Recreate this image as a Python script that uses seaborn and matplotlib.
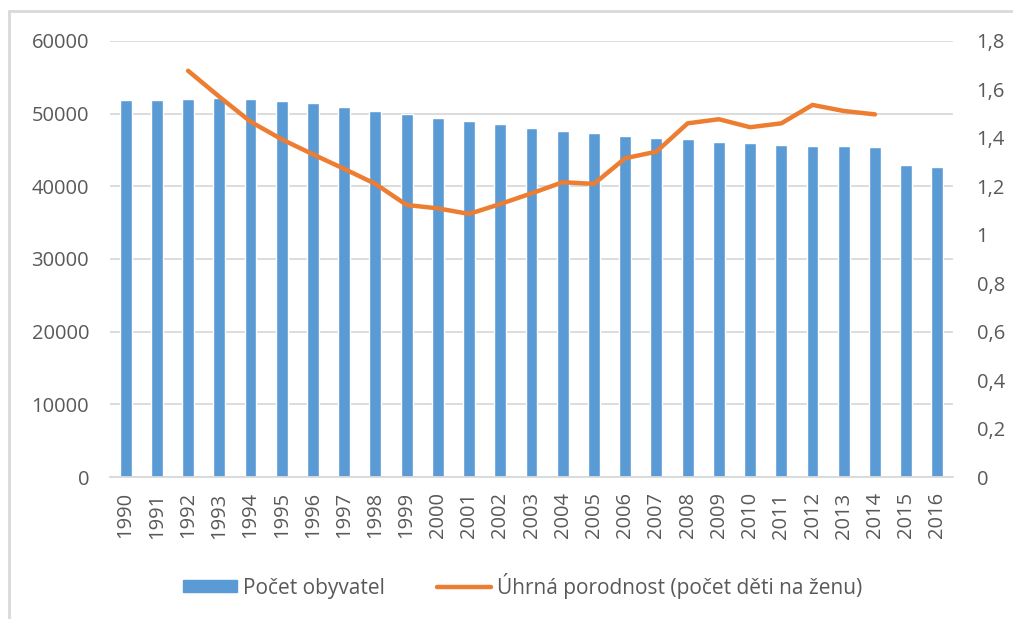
import numpy as np, pandas as pd, matplotlib
matplotlib.use("Agg")
import matplotlib.pyplot as plt
import seaborn as sns
from matplotlib.lines import Line2D
from matplotlib.patches import Patch
from matplotlib.ticker import FuncFormatter

years = list(range(1990, 2017))
population = [51900, 51900, 52050, 52200, 52050, 51700, 51420, 50870, 50320, 50000,
              49450, 48950, 48580, 48030, 47680, 47340, 46970, 46600, 46470, 46100,
              45920, 45730, 45550, 45550, 45370, 42890, 42700]
fert_years = list(range(1992, 2015))
fertility = [1.677, 1.570, 1.467, 1.394, 1.332, 1.272, 1.210, 1.123, 1.109, 1.086,
             1.127, 1.171, 1.217, 1.210, 1.316, 1.343, 1.460, 1.477, 1.444, 1.460,
             1.536, 1.511, 1.497]

bar_label = "Počet obyvatel"
line_label = "Úhrná porodnost (počet děti na ženu)"

BLUE = "#5B9BD5"
ORANGE = "#ED7D31"
GRID = "#D9D9D9"
TXT = "#595959"

sns.set_style("white")
plt.rcParams["font.family"] = ["Open Sans", "DejaVu Sans"]

df = pd.DataFrame({"year": years, "pop": population})
df_f = pd.DataFrame({"year": fert_years, "fert": fertility})

fig = plt.figure(figsize=(10.13, 6.19), dpi=100)
ax = fig.add_axes([0.1086, 0.2294, 0.8322, 0.7044])

sns.barplot(data=df, x="year", y="pop", native_scale=True, color=BLUE,
            saturation=1, width=0.38, ax=ax, zorder=2)
ax.set_xlim(1989.5, 2016.5)
ax.set_ylim(0, 60000)
ax.set_yticks(range(0, 60001, 10000))
ax.set_xticks(years)
ax.set_xticklabels([str(y) for y in years], rotation=90)
ax.yaxis.grid(True, color=GRID, lw=1.3, zorder=0)
ax.set_axisbelow(True)
for s in ["top", "right", "left"]:
    ax.spines[s].set_visible(False)
ax.spines["bottom"].set_color(GRID)
ax.spines["bottom"].set_linewidth(1.3)
ax.set_xlabel("")
ax.set_ylabel("")
ax.tick_params(axis="both", length=0, labelsize=14.5, colors=TXT)
ax.tick_params(axis="y", pad=15)
ax.tick_params(axis="x", pad=11)

ax2 = ax.twinx()
sns.lineplot(data=df_f, x="year", y="fert", color=ORANGE, lw=3.2, ax=ax2,
             solid_capstyle="round")
ax2.set_ylim(0, 1.8)
ax2.set_yticks(np.arange(0, 1.81, 0.2))
ax2.yaxis.set_major_formatter(FuncFormatter(
    lambda v, p: "0" if abs(v) < 1e-9 else ("1" if abs(v - 1) < 1e-9 else f"{v:.1f}".replace(".", ","))))
for s in ax2.spines.values():
    s.set_visible(False)
ax2.set_ylabel("")
ax2.set_xlabel("")
ax2.tick_params(axis="y", length=0, labelsize=14.5, colors=TXT, pad=17)

handles = [Patch(color=BLUE, label=bar_label),
           Line2D([0], [0], color=ORANGE, lw=3.2, label=line_label)]
fig.legend(handles=handles, loc="center", bbox_to_anchor=(0.516, 0.054), ncol=2,
           frameon=False, fontsize=15, labelcolor=TXT, handlelength=2.6,
           handletextpad=0.3, columnspacing=2.5, handleheight=0.55)

# chart border (left and top edge visible)
fig.add_artist(Line2D([9/1013, 9/1013], [0, 1 - 11/619], color=GRID, lw=2,
                      transform=fig.transFigure))
fig.add_artist(Line2D([9/1013, 1], [1 - 11/619, 1 - 11/619], color=GRID, lw=2,
                      transform=fig.transFigure))

fig.savefig("out.png", dpi=100)
